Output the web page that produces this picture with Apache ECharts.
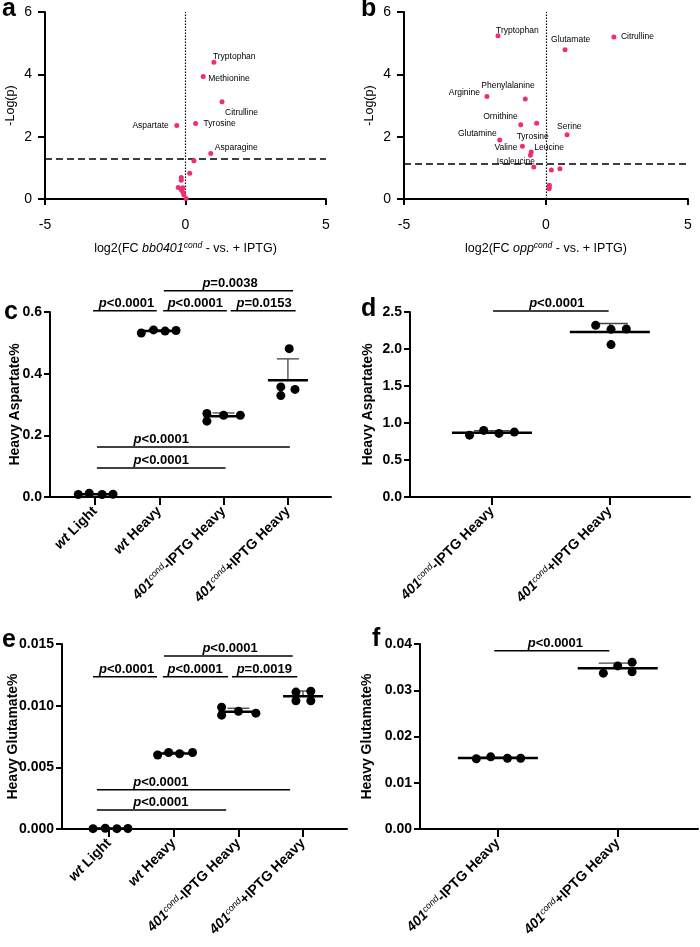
<!DOCTYPE html>
<html>
<head>
<meta charset="utf-8">
<script src="https://cdn.jsdelivr.net/npm/echarts@6/dist/echarts.min.js"></script>
<style>
  html, body { margin: 0; padding: 0; background: #fff; }
  #chart { width: 700px; height: 947px; }
</style>
</head>
<body>
<div id="chart"></div>
<script>
const FONT = '"Liberation Sans", Arial, sans-serif';
const PINK = '#ef2f6c';

// a: bb0401cond volcano
const aNames = ['Tryptophan', 'Methionine', 'Citrulline', 'Tyrosine', 'Aspartate', 'Asparagine', '', '', '', '', '', '', '', '', '', ''];
const aLog2FC = [1.01, 0.63, 1.30, 0.36, -0.31, 0.90, 0.30, 0.15, -0.15, -0.15, -0.26, -0.10, -0.15, -0.09, -0.06, 0.02];
const aNegLogP = [4.39, 3.93, 3.12, 2.42, 2.36, 1.46, 1.23, 0.83, 0.69, 0.60, 0.37, 0.36, 0.30, 0.22, 0.14, 0.02];
const aThreshold = 1.3;

// b: oppcond volcano
const bNames = ['Tryptophan', 'Citrulline', 'Glutamate', 'Arginine', 'Phenylalanine', 'Ornithine', 'Tyrosine', 'Serine',
  'Glutamine', 'Valine', 'Leucine', '', 'Isoleucine', '', '', '', '', ''];
const bLog2FC = [-1.69, 2.39, 0.67, -2.08, -0.73, -0.89, -0.33, 0.74, -1.63, -0.83, -0.52, -0.55, -0.43, 0.19, 0.49, 0.12, 0.11, 0.11];
const bNegLogP = [5.24, 5.20, 4.79, 3.29, 3.21, 2.38, 2.43, 2.06, 1.89, 1.69, 1.51, 1.40, 1.03, 0.93, 0.97, 0.44, 0.37, 0.33];
const bThreshold = 1.12;

// label anchor relative to the point, px: [align, dx, dy]
const aLabelPos = {
  Tryptophan: ['left', -1, -6], Methionine: ['left', 5, 2], Citrulline: ['left', 3, 11],
  Tyrosine: ['left', 8, 0], Aspartate: ['right', -8, 0], Asparagine: ['left', 4, -6]
};
const bLabelPos = {
  Tryptophan: ['left', -2, -5], Citrulline: ['left', 7, 0], Glutamate: ['left', -14, -10],
  Arginine: ['right', -7, -4], Phenylalanine: ['left', -44, -13], Ornithine: ['right', -3, -8],
  Tyrosine: ['left', -20, 13], Serine: ['left', -10, -8], Glutamine: ['right', -3, -6],
  Valine: ['right', -5, 1], Leucine: ['left', 3, -4], Isoleucine: ['left', -37, -5]
};

// c: heavy aspartate, bb0401cond
const cCats = ['wt Light', 'wt Heavy', '401-IPTG Heavy', '401+IPTG Heavy'];
const cValues = [[0.008, 0.012, 0.008, 0.009], [0.532, 0.542, 0.538, 0.540], [0.271, 0.246, 0.265, 0.265], [0.481, 0.357, 0.349, 0.329]];
const cJitter = [[-0.26, -0.09, 0.11, 0.28], [-0.28, -0.09, 0.09, 0.26], [-0.26, -0.26, 0, 0.26], [0.02, -0.11, 0.11, -0.11]];
// [x1, x2, y, textX, label]
const cBrackets = [
  [2.07, 4.08, 0.669, 3.10, '=0.0038'], [0.97, 1.96, 0.604, 1.49, '<0.0001'], [2.06, 3.05, 0.604, 2.56, '<0.0001'],
  [3.11, 4.12, 0.604, 3.63, '=0.0153'], [1.03, 4.03, 0.162, 2.03, '<0.0001'], [1.03, 3.03, 0.094, 2.03, '<0.0001']
];

// d: heavy aspartate, oppcond
const dCats = ['401-IPTG Heavy', '401+IPTG Heavy'];
const dValues = [[0.836, 0.900, 0.859, 0.877], [2.32, 2.266, 2.27, 2.06]];
const dJitter = [[-0.19, -0.07, 0.06, 0.19], [-0.12, 0.01, 0.14, 0.01]];
const dBrackets = [[1.01, 1.99, 2.513, 1.55, '<0.0001']];

// e: heavy glutamate, bb0401cond
const eCats = cCats;
const eValues = [[0.00003, 0.00006, 0.00003, 0.00004], [0.0060, 0.0062, 0.0061, 0.0062], [0.00988, 0.00923, 0.00955, 0.00939], [0.0111, 0.01117, 0.0104, 0.0104]];
const eJitter = [[-0.25, -0.06, 0.12, 0.29], [-0.25, -0.08, 0.09, 0.29], [-0.26, -0.26, 0, 0.27], [-0.11, 0.12, -0.11, 0.12]];
const eBrackets = [
  [1.85, 3.84, 0.01403, 2.87, '<0.0001'], [0.75, 1.74, 0.01235, 1.27, '<0.0001'], [1.83, 2.84, 0.01235, 2.33, '<0.0001'],
  [2.90, 3.91, 0.01235, 3.40, '=0.0019'], [0.81, 3.80, 0.00318, 1.80, '<0.0001'], [0.81, 2.81, 0.00154, 1.80, '<0.0001']
];

// f: heavy glutamate, oppcond
const fCats = dCats;
const fValues = [[0.0152, 0.0156, 0.0153, 0.0153], [0.0337, 0.03526, 0.03606, 0.0340]];
const fJitter = [[-0.18, -0.06, 0.08, 0.19], [-0.12, 0, 0.12, 0.12]];
const fBrackets = [[0.97, 1.93, 0.03856, 1.48, '<0.0001']];

const catRich = {
  i: { fontStyle: 'italic', fontWeight: 'bold', fontSize: 14, color: '#000', fontFamily: FONT },
  b: { fontWeight: 'bold', fontSize: 14, color: '#000', fontFamily: FONT },
  s: { fontStyle: 'italic', fontSize: 9, color: '#000', fontFamily: FONT, verticalAlign: 'top', padding: [0, 0, 6, 0] }
};

function catLabel(name) {
  if (name.indexOf('wt ') === 0) return '{i|wt}{b|' + name.slice(2) + '}';
  return '{i|401}{s|cond}{b|' + name.slice(3) + '}';
}

function volcanoData(names, xs, ys, pos) {
  return xs.map((x, i) => {
    const lp = pos[names[i]];
    return {
      value: [x, ys[i]],
      name: names[i],
      label: lp ? {
        show: true, position: 'inside', align: lp[0], verticalAlign: 'middle',
        offset: [lp[1], lp[2]], formatter: names[i], color: '#000', fontSize: 8.5, fontFamily: FONT
      } : { show: false }
    };
  });
}

const axisLine = { show: true, onZero: false, lineStyle: { color: '#000', width: 2 } };

function volcanoAxes(gi, gene) {
  return {
    x: {
      type: 'value', gridIndex: gi, min: -5, max: 5, interval: 5,
      axisLine, axisTick: { show: true, length: 6, lineStyle: { color: '#000', width: 2 } },
      axisLabel: { color: '#000', fontSize: 14, margin: 19, fontFamily: FONT },
      splitLine: { show: false },
      name: '{n|log2(FC }{i|' + gene + '}{s|cond}{n| - vs. + IPTG)}',
      nameLocation: 'middle', nameGap: 42, nameMoveOverlap: false,
      nameTextStyle: {
        rich: {
          n: { fontSize: 12.5, color: '#000', fontFamily: FONT },
          i: { fontSize: 12.5, color: '#000', fontStyle: 'italic', fontFamily: FONT },
          s: { fontSize: 8.5, color: '#000', fontStyle: 'italic', fontFamily: FONT, verticalAlign: 'top', padding: [0, 0, 6, 0] }
        }
      }
    },
    y: {
      type: 'value', gridIndex: gi, min: 0, max: 6, interval: 2,
      axisLine, axisTick: { show: true, length: 7, lineStyle: { color: '#000', width: 2 } },
      axisLabel: { color: '#000', fontSize: 14, margin: 13, fontFamily: FONT },
      splitLine: { show: false },
      name: '-Log(p)', nameLocation: 'middle', nameGap: 28, nameMoveOverlap: false,
      nameTextStyle: { fontSize: 12.5, color: '#000', fontFamily: FONT }
    }
  };
}

function stripAxes(gi, cats, min, max, yMax, yInt, digits, yName, yGap) {
  const ticks = cats.map((c, i) => i + 1);
  return {
    x: {
      type: 'value', gridIndex: gi, min, max,
      axisLine,
      axisTick: { show: true, length: 8, customValues: ticks, lineStyle: { color: '#000', width: 2 } },
      axisLabel: {
        customValues: ticks, rotate: 45, margin: 12,
        formatter: v => catLabel(cats[Math.round(v) - 1]), rich: catRich
      },
      splitLine: { show: false }
    },
    y: {
      type: 'value', gridIndex: gi, min: 0, max: yMax, interval: yInt,
      axisLine, axisTick: { show: true, length: 6, lineStyle: { color: '#000', width: 2 } },
      axisLabel: { color: '#000', fontSize: 14, fontWeight: 'bold', margin: 8, fontFamily: FONT, formatter: v => v.toFixed(digits) },
      splitLine: { show: false },
      name: yName, nameLocation: 'middle', nameGap: yGap, nameMoveOverlap: false,
      nameTextStyle: { fontSize: 14, fontWeight: 'bold', color: '#000', fontFamily: FONT }
    }
  };
}

function mean(a) { return a.reduce((s, v) => s + v, 0) / a.length; }
function sd(a) { const m = mean(a); return Math.sqrt(a.reduce((s, v) => s + (v - m) * (v - m), 0) / (a.length - 1)); }

function dotSeries(gi, values, jitter) {
  const data = [];
  values.forEach((g, i) => g.forEach((v, j) => data.push([i + 1 + jitter[i][j], v])));
  return {
    type: 'scatter', xAxisIndex: gi, yAxisIndex: gi, data, symbolSize: 9, z: 4, silent: true,
    itemStyle: { color: '#000', opacity: 1 }
  };
}

function statSeries(gi, values, halfW, capW) {
  const data = values.map((g, i) => [i + 1, mean(g), sd(g)]);
  return {
    type: 'custom', xAxisIndex: gi, yAxisIndex: gi, data, z: 3, silent: true,
    encode: { x: 0, y: 1 },
    renderItem(params, api) {
      const p = api.coord([api.value(0), api.value(1)]);
      const t = api.coord([api.value(0), api.value(1) + api.value(2)]);
      return {
        type: 'group', children: [
          { type: 'line', shape: { x1: p[0], y1: t[1], x2: p[0], y2: p[1] }, style: { stroke: '#444', lineWidth: 1.3 } },
          { type: 'line', shape: { x1: p[0] - capW, y1: t[1], x2: p[0] + capW, y2: t[1] }, style: { stroke: '#444', lineWidth: 1.3 } },
          { type: 'line', shape: { x1: p[0] - halfW, y1: p[1], x2: p[0] + halfW, y2: p[1] }, style: { stroke: '#000', lineWidth: 2.5 } }
        ]
      };
    }
  };
}

function bracketSeries(gi, brackets) {
  return {
    type: 'custom', xAxisIndex: gi, yAxisIndex: gi, silent: true, clip: false, z: 5,
    data: brackets.map(b => [b[0], b[1], b[2], b[3]]),
    encode: { x: [0, 1], y: 2 },
    renderItem(params, api) {
      const a = api.coord([api.value(0), api.value(2)]);
      const b = api.coord([api.value(1), api.value(2)]);
      const t = api.coord([api.value(3), api.value(2)]);
      return {
        type: 'group', children: [
          { type: 'line', shape: { x1: a[0], y1: a[1], x2: b[0], y2: b[1] }, style: { stroke: '#000', lineWidth: 1.5 } },
          {
            type: 'text', x: t[0], y: a[1] - 1,
            style: {
              text: '{i|p}{b|' + brackets[params.dataIndex][4] + '}',
              align: 'center', verticalAlign: 'bottom',
              rich: {
                i: { font: 'italic bold 13px ' + FONT, fill: '#000' },
                b: { font: 'bold 13px ' + FONT, fill: '#000' }
              }
            }
          }
        ]
      };
    }
  };
}

const va = volcanoAxes(0, 'bb0401');
const vb = volcanoAxes(1, 'opp');
const sc = stripAxes(2, cCats, 0.30, 4.67, 0.6, 0.2, 1, 'Heavy Aspartate%', 28);
const sd_ = stripAxes(3, dCats, 0.305, 2.68, 2.5, 0.5, 1, 'Heavy Aspartate%', 35);
const se = stripAxes(4, eCats, 0.27, 4.68, 0.015, 0.005, 3, 'Heavy Glutamate%', 42);
const sf = stripAxes(5, fCats, 0.35, 2.67, 0.04, 0.01, 2, 'Heavy Glutamate%', 46);

function markLines(thr) {
  return {
    silent: true, symbol: ['none', 'none'], label: { show: false }, z: 1,
    data: [
      { xAxis: 0, lineStyle: { color: '#000', type: [1.5, 1.5], width: 1.2 } },
      { yAxis: thr, lineStyle: { color: '#000', type: [7, 4], width: 1.6 } }
    ]
  };
}

const letter = (t, x, y) => ({
  type: 'text', left: x, top: y,
  style: { text: t, font: 'bold 25px ' + FONT, fill: '#000' }
});

const option = {
  animation: false,
  backgroundColor: '#fff',
  textStyle: { fontFamily: FONT },
  grid: [
    { left: 45, top: 12, width: 281, height: 187 },
    { left: 404, top: 12, width: 284, height: 187 },
    { left: 50, top: 312, width: 281, height: 185 },
    { left: 410, top: 312, width: 280, height: 185 },
    { left: 62, top: 644, width: 285, height: 185 },
    { left: 420, top: 644, width: 278, height: 185 }
  ].map(g => Object.assign(g, { containLabel: false, outerBoundsMode: 'none' })),
  xAxis: [va.x, vb.x, sc.x, sd_.x, se.x, sf.x],
  yAxis: [va.y, vb.y, sc.y, sd_.y, se.y, sf.y],
  graphic: [
    letter('a', 2, -3), letter('b', 361, -3), letter('c', 4, 300),
    letter('d', 361, 297), letter('e', 2, 628), letter('f', 372, 627)
  ],
  series: [
    {
      type: 'scatter', xAxisIndex: 0, yAxisIndex: 0, symbolSize: 5, silent: true,
      itemStyle: { color: PINK, opacity: 1 },
      data: volcanoData(aNames, aLog2FC, aNegLogP, aLabelPos),
      markLine: markLines(aThreshold)
    },
    {
      type: 'scatter', xAxisIndex: 1, yAxisIndex: 1, symbolSize: 5, silent: true,
      itemStyle: { color: PINK, opacity: 1 },
      data: volcanoData(bNames, bLog2FC, bNegLogP, bLabelPos),
      markLine: markLines(bThreshold)
    },
    statSeries(2, cValues, 20, 11), dotSeries(2, cValues, cJitter), bracketSeries(2, cBrackets),
    statSeries(3, dValues, 40, 18), dotSeries(3, dValues, dJitter), bracketSeries(3, dBrackets),
    statSeries(4, eValues, 20, 11), dotSeries(4, eValues, eJitter), bracketSeries(4, eBrackets),
    statSeries(5, fValues, 40, 19), dotSeries(5, fValues, fJitter), bracketSeries(5, fBrackets)
  ]
};

const chart = echarts.init(document.getElementById('chart'), null, { renderer: 'canvas' });
chart.setOption(option);
</script>
</body>
</html>
